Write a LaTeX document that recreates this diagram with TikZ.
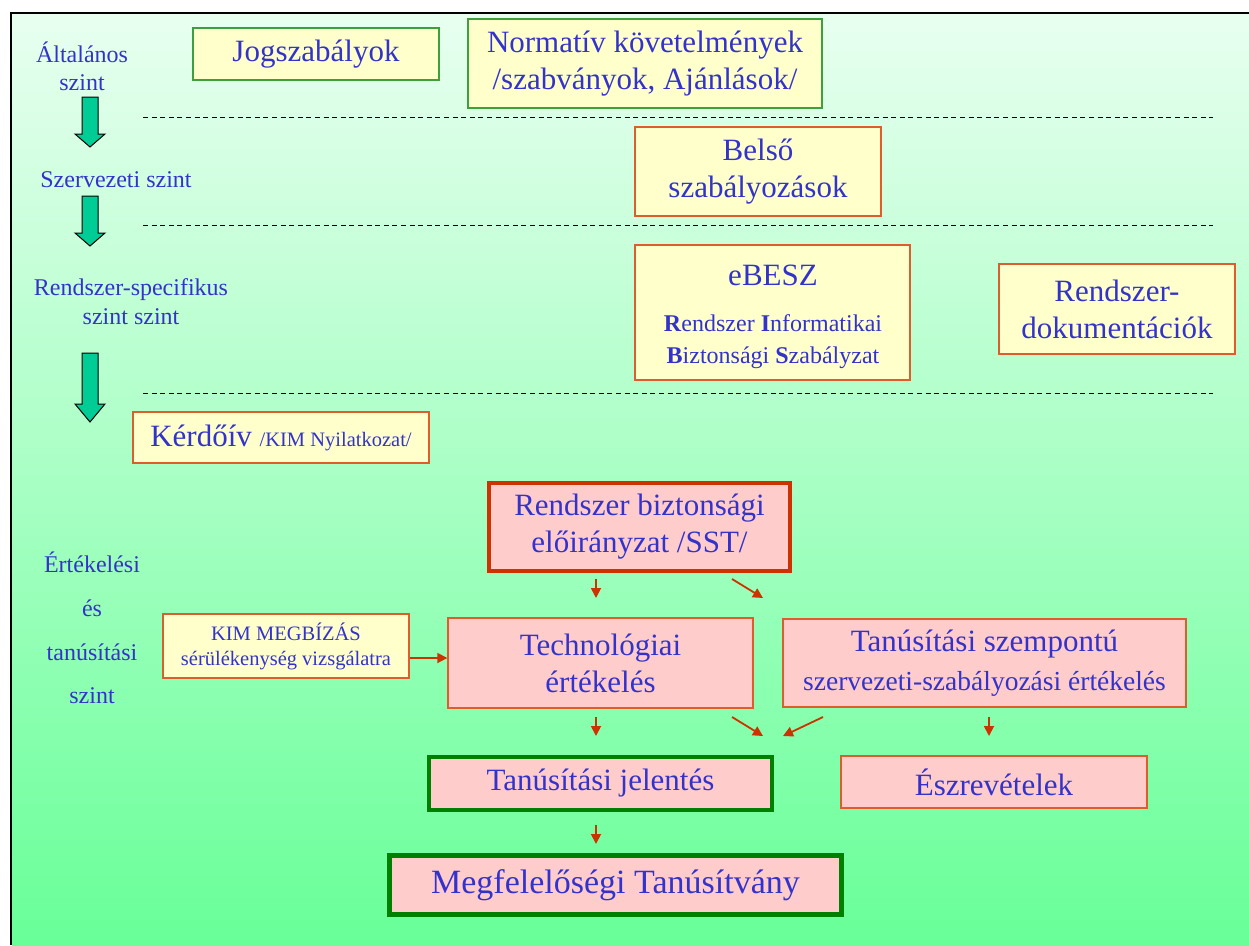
\documentclass[tikz,border=0pt]{standalone}
\usepackage{fontspec}
\setmainfont{Liberation Serif}
\usetikzlibrary{arrows.meta}
\definecolor{txt}{RGB}{51,51,204}
\definecolor{yfill}{RGB}{255,255,204}
\definecolor{pfill}{RGB}{255,204,204}
\definecolor{oborder}{RGB}{221,94,44}
\definecolor{rarrow}{RGB}{204,51,0}
\definecolor{gthin}{RGB}{60,160,60}
\definecolor{gthick}{RGB}{0,128,0}
\definecolor{garrowfill}{RGB}{0,204,150}
\definecolor{bgtop}{RGB}{232,255,240}
\definecolor{bgbot}{RGB}{104,255,152}
\newcommand{\fs}[2]{\fontsize{#1}{#2}\selectfont}
\tikzset{
  box/.style={rectangle, inner sep=0pt, align=center, text=txt, font=\fs{31}{37}},
  ybox/.style={box, fill=yfill},
  pbox/.style={box, fill=pfill},
  gthinbox/.style={draw=gthin, line width=1.6pt},
  obox/.style={draw=oborder, line width=1.4pt},
  rthick/.style={draw=rarrow, line width=4pt},
  gthickbox/.style={draw=gthick, line width=4.5pt},
  lvl/.style={text=txt, align=center, inner sep=0pt, font=\fs{24}{28}},
  ra/.style={draw=rarrow, line width=1.8pt, -{Triangle[length=10pt,width=10pt]}},
  dline/.style={draw=black, line width=1pt, dash pattern=on 5pt off 3.6pt},
  garr/.style={fill=garrowfill, draw=black, line width=1pt, line join=miter},
}
\newcommand{\greenarrow}[4]{%
  \path[garr] (#1-8,#2) -- (#1+8,#2) -- (#1+8,#3) -- (#1+15,#3) -- (#1,#4) -- (#1-15,#3) -- (#1-8,#3) -- cycle;}
\begin{document}
\begin{tikzpicture}[x=1pt,y=-1pt]
\useasboundingbox (0,0) rectangle (1249,945);
\fill[top color=bgtop, bottom color=bgbot] (12,14) rectangle (1249,945);
\draw[line width=2pt] (11,945) -- (11,13) -- (1249,13);

% level labels
\node[lvl] (l1) at (82,66) {Általános\\szint};
\node[lvl] (l2) at (116,180) {Szervezeti szint};
\node[lvl, font=\fs{24}{29}] (l3) at (131,302) {Rendszer-specifikus\\szint szint};
\node[lvl, font=\fs{24}{43.7}] (l4) at (92,628) {Értékelési\\és\\tanúsítási\\szint};

% green arrows
\greenarrow{90}{97}{134}{147}
\greenarrow{90}{196}{233}{246}
\greenarrow{90}{353}{404}{422}

% dashed separators
\draw[dline] (143,117) -- (1213,117);
\draw[dline] (143,225) -- (1213,225);
\draw[dline] (143,393) -- (1213,393);

% boxes
\node[ybox, gthinbox, minimum width=246pt, minimum height=52pt] (jog) at (316,54) {Jogszabályok};
\node[ybox, gthinbox, minimum width=354pt, minimum height=89pt] (norm) at (645,63.5) {Normatív követelmények\\/szabványok, Ajánlások/};
\node[ybox, obox, minimum width=246pt, minimum height=89pt] (belso) at (758,171.5) {Belső\\szabályozások};
\node[ybox, obox, minimum width=275pt, minimum height=135pt] (ebesz) at (772.5,312.5) {};
\node[box] (ebeszT) at (773,275) {eBESZ};
\node[box, font=\fs{24}{32}] (ebeszS) at (773,342) {\textbf{R}endszer \textbf{I}nformatikai\\\textbf{B}iztonsági \textbf{S}zabályzat};
\node[ybox, obox, minimum width=236pt, minimum height=90pt] (rdok) at (1117,309) {Rendszer-\\dokumentációk};
\node[ybox, obox, minimum width=296pt, minimum height=51pt] (kerd) at (281,437.5) {Kérdőív {\fs{20.5}{24}/KIM Nyilatkozat/}};

\node[pbox, rthick, minimum width=301pt, minimum height=88pt] (rbe) at (639.5,527) {Rendszer biztonsági\\előirányzat /SST/};
\node[ybox, obox, font=\fs{20.5}{25}, minimum width=246pt, minimum height=64pt] (kim) at (286,646) {KIM MEGBÍZÁS\\sérülékenység vizsgálatra};
\node[pbox, obox, minimum width=305pt, minimum height=90pt] (tech) at (600.5,663) {Technológiai\\értékelés};
\node[pbox, obox, minimum width=403pt, minimum height=88pt] (tsz) at (984.5,663) {Tanúsítási szempontú\\[2pt]{\fs{27.5}{33}szervezeti-szabályozási értékelés}};
\node[pbox, gthickbox, minimum width=343pt, minimum height=53pt] (tj) at (600.5,783.5) {Tanúsítási jelentés};
\node[pbox, obox, minimum width=306pt, minimum height=52pt] (eszr) at (994,782) {Észrevételek};
\node[pbox, gthickbox, font=\fs{34}{40}, minimum width=452pt, minimum height=59pt] (mt) at (615.5,885) {Megfelelőségi Tanúsítvány};

% arrow end points
\coordinate (a1s) at (596,579); \coordinate (a1e) at (596,598);
\coordinate (a2s) at (732,579); \coordinate (a2e) at (763,598);
\coordinate (a3s) at (596,717); \coordinate (a3e) at (596,736);
\coordinate (a4s) at (732,717); \coordinate (a4e) at (763,736);
\coordinate (a5s) at (823,717); \coordinate (a5e) at (783,736);
\coordinate (a6s) at (989,717); \coordinate (a6e) at (989,736);
\coordinate (a7s) at (596,825); \coordinate (a7e) at (596,844);

\draw[ra] (a1s) -- (a1e);
\draw[ra] (a2s) -- (a2e);
\draw[ra] (a3s) -- (a3e);
\draw[ra] (a4s) -- (a4e);
\draw[ra] (a5s) -- (a5e);
\draw[ra] (a6s) -- (a6e);
\draw[ra] (a7s) -- (a7e);
\draw[ra] ([yshift=-12pt]kim.east) -- ([yshift=-12pt]kim.east -| tech.west);
\end{tikzpicture}
\end{document}
